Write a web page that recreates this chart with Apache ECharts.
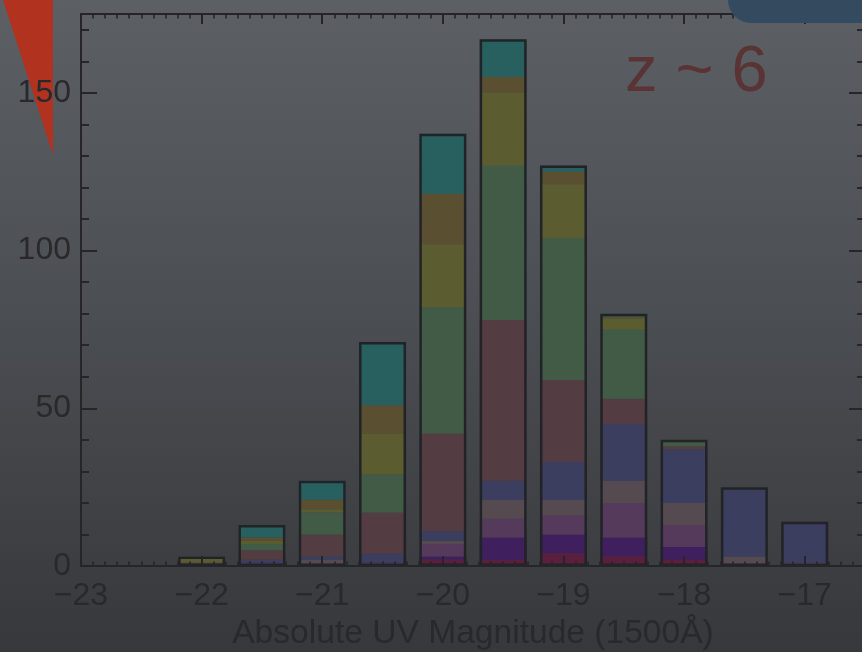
<!DOCTYPE html>
<html>
<head>
<meta charset="utf-8">
<script src="https://cdn.jsdelivr.net/npm/echarts@6/dist/echarts.min.js"></script>
<style>
html,body{margin:0;padding:0;}
#chart{width:862px;height:652px;background:linear-gradient(180deg,#5c6064 0%,#4c4f53 45%,#36383c 100%);}
</style>
</head>
<body>
<div id="chart"></div>
<script>
// Bin centres (absolute UV magnitude)
const binCenters = [-22, -21.5, -21, -20.5, -20, -19.5, -19, -18.5, -18, -17.5, -17];
// Stacked components, bottom to top
const crimson    = [0, 0, 0, 0, 2, 2, 4, 3, 2, 0, 0];
const purple     = [0, 0, 0, 0, 1, 7, 6, 6, 4, 0, 0];
const mauve      = [1, 1, 0, 1, 4, 6, 6, 11, 7, 0, 0];
const taupe      = [0, 0, 2, 0, 1, 6, 5, 7, 7, 3, 1];
const slate      = [0, 1, 1, 3, 3, 6, 12, 18, 17, 21.5, 13];
const brownRed   = [0, 3, 7, 13, 31, 51, 26, 8, 1, 0, 0];
const green      = [0, 2, 7, 12, 40, 49, 45, 22, 2, 0.5, 0];
const olive      = [2, 1, 1, 13, 20, 23, 17, 3.5, 0, 0, 0];
const brownOlive = [0, 1, 3, 9, 16, 5, 4, 0.5, 0, 0, 0];
const teal       = [0, 4, 6, 20, 19, 12, 2, 1, 0, 0, 0];
// Tick labels
const xTickValues = [-23, -22, -21, -20, -19, -18, -17];
const xTickLabels = ['\u221223', '\u221222', '\u221221', '\u221220', '\u221219', '\u221218', '\u221217'];
const yTickValues = [0, 50, 100, 150];
const yTickLabels = ['0', '50', '100', '150'];
const xTitle = 'Absolute UV Magnitude (1500\u00C5)';
const panelLabel = 'z ~ 6';

const layers = [
  {name: 'c1', data: crimson, color: '#5a1f3d'},
  {name: 'c2', data: purple, color: '#3f1f5e'},
  {name: 'c3', data: mauve, color: '#553a5c'},
  {name: 'c4', data: taupe, color: '#554a50'},
  {name: 'c5', data: slate, color: '#3b3e5f'},
  {name: 'c6', data: brownRed, color: '#543d42'},
  {name: 'c7', data: green, color: '#415b46'},
  {name: 'c8', data: olive, color: '#5b5d30'},
  {name: 'c9', data: brownOlive, color: '#5a5031'},
  {name: 'c10', data: teal, color: '#28605f'}
];
const totals = binCenters.map((_, i) => layers.reduce((s, l) => s + l.data[i], 0));

const axisColor = '#242629';
const textColor = '#27292c';
const FONT = '"Liberation Sans", Arial, Helvetica, sans-serif';
const BW = 47;

function xMajor(pos, showLabel) {
  return {
    type: 'value', position: pos, min: -23, max: -16.5, interval: 1, z: 10,
    axisLine: {show: true, onZero: false, lineStyle: {color: axisColor, width: 2}},
    axisTick: {show: true, inside: true, length: 10, lineStyle: {color: axisColor, width: 2}},
    splitLine: {show: false},
    axisLabel: {show: showLabel, showMaxLabel: false, margin: 14, color: textColor, fontSize: 32, fontFamily: FONT,
      formatter: v => { const k = xTickValues.indexOf(Math.round(v * 10) / 10); return k >= 0 ? xTickLabels[k] : ''; }},
    name: showLabel ? xTitle : '', nameLocation: 'middle', nameGap: 51,
    nameTextStyle: {color: textColor, fontSize: 33.6, fontFamily: FONT}
  };
}
function xMinor(pos) {
  return {
    type: 'value', position: pos, min: -23, max: -16.5, interval: 0.1, z: 10,
    axisLine: {show: false, onZero: false},
    axisTick: {show: true, inside: true, length: 4.5, lineStyle: {color: axisColor, width: 1.6}},
    splitLine: {show: false}, axisLabel: {show: false}
  };
}
function yMajor(pos, showLabel) {
  return {
    type: 'value', position: pos, min: 0, max: 175, interval: 50, z: 10,
    axisLine: {show: true, onZero: false, lineStyle: {color: axisColor, width: 2}},
    axisTick: {show: true, inside: true, length: 16, lineStyle: {color: axisColor, width: 2}},
    splitLine: {show: false},
    axisLabel: {show: showLabel, showMaxLabel: false, margin: 10, color: textColor, fontSize: 32, fontFamily: FONT,
      formatter: v => { const k = yTickValues.indexOf(v); return k >= 0 ? yTickLabels[k] : ''; }}
  };
}
function yMinor(pos) {
  return {
    type: 'value', position: pos, min: 0, max: 175, interval: 10, z: 10,
    axisLine: {show: false, onZero: false},
    axisTick: {show: true, inside: true, length: 8, lineStyle: {color: axisColor, width: 2}},
    splitLine: {show: false}, axisLabel: {show: false}
  };
}

// data items are [count, binCenter] so that the count dimension is the stacked one
const series = layers.map(l => ({
  type: 'bar', name: l.name, stack: 'all', xAxisIndex: 0, yAxisIndex: 0,
  barWidth: BW, barGap: '-100%',
  encode: {x: 1, y: 0},
  itemStyle: {color: l.color, borderWidth: 0},
  data: binCenters.map((x, i) => [l.data[i], x])
}));
series.push({
  type: 'bar', name: 'total', xAxisIndex: 0, yAxisIndex: 0, z: 3,
  barWidth: BW, barGap: '-100%',
  encode: {x: 1, y: 0},
  itemStyle: {color: 'rgba(0,0,0,0)', borderColor: '#212326', borderWidth: 2.5},
  data: binCenters.map((x, i) => [totals[i], x])
});

const chart = echarts.init(document.getElementById('chart'), null, {renderer: 'canvas'});
chart.setOption({
  backgroundColor: 'transparent',
  animation: false,
  grid: {left: 81, right: -3, top: 14, bottom: 86, outerBoundsMode: 'none', containLabel: false},
  xAxis: [xMajor('bottom', true), xMinor('bottom'), xMajor('top', false), xMinor('top')],
  yAxis: [yMajor('left', true), yMinor('left'), yMajor('right', false), yMinor('right')],
  graphic: [
    {type: 'polygon', z: -1, shape: {points: [[3, 0], [53, 0], [53, 155]]}, style: {fill: '#b1321f'}},
    {type: 'rect', z: 100, shape: {x: 728, y: -30, width: 200, height: 53, r: 23}, style: {fill: '#344a5f'}},
    {type: 'text', z: 100, style: {x: 625, y: 73, text: panelLabel, fill: '#5a3335',
      font: '65px "Liberation Sans", Arial, sans-serif', verticalAlign: 'middle', align: 'left'}}
  ],
  series: series
});
</script>
</body>
</html>
